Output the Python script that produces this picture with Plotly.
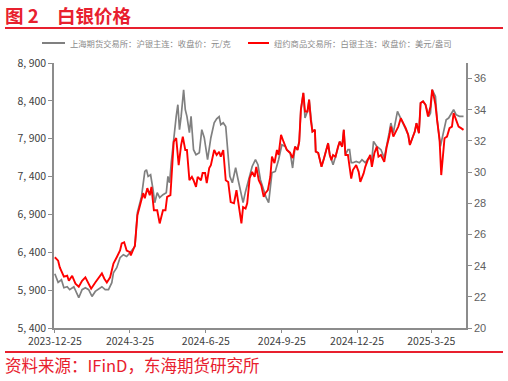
import plotly.graph_objects as go

# ---------------- data ----------------
shfe_dates = [
    "2023-12-25", "2023-12-29", "2024-01-02", "2024-01-05", "2024-01-09", "2024-01-12", "2024-01-17",
    "2024-01-21", "2024-01-23", "2024-01-27", "2024-01-31", "2024-02-04", "2024-02-08", "2024-02-12",
    "2024-02-16", "2024-02-20", "2024-02-24", "2024-02-28", "2024-03-03", "2024-03-05", "2024-03-09",
    "2024-03-13", "2024-03-17", "2024-03-21", "2024-03-25", "2024-03-31", "2024-04-03", "2024-04-08",
    "2024-04-12", "2024-04-14", "2024-04-16", "2024-04-19", "2024-04-22", "2024-04-24", "2024-04-27",
    "2024-04-30", "2024-05-04", "2024-05-08", "2024-05-10", "2024-05-12", "2024-05-14", "2024-05-17",
    "2024-05-20", "2024-05-22", "2024-05-24", "2024-05-26", "2024-05-29", "2024-05-31", "2024-06-02",
    "2024-06-05", "2024-06-07", "2024-06-10", "2024-06-13", "2024-06-17", "2024-06-20", "2024-06-23",
    "2024-06-24", "2024-06-27", "2024-07-01", "2024-07-05", "2024-07-08", "2024-07-11", "2024-07-13",
    "2024-07-16", "2024-07-19", "2024-07-22", "2024-07-24", "2024-07-27", "2024-07-31", "2024-08-03",
    "2024-08-06", "2024-08-09", "2024-08-12", "2024-08-16", "2024-08-20", "2024-08-24", "2024-08-27",
    "2024-08-30", "2024-09-03", "2024-09-06", "2024-09-09", "2024-09-13", "2024-09-17", "2024-09-21",
    "2024-09-25", "2024-09-29", "2024-10-01", "2024-10-05", "2024-10-08", "2024-10-11", "2024-10-14",
    "2024-10-16", "2024-10-18", "2024-10-21", "2024-10-23", "2024-10-26", "2024-10-28", "2024-10-30",
    "2024-11-01", "2024-11-04", "2024-11-05", "2024-11-08", "2024-11-10", "2024-11-12", "2024-11-15",
    "2024-11-17", "2024-11-20", "2024-11-22", "2024-11-24", "2024-11-26", "2024-11-29", "2024-12-02",
    "2024-12-04", "2024-12-07", "2024-12-09", "2024-12-11", "2024-12-14", "2024-12-16", "2024-12-18",
    "2024-12-20", "2024-12-24", "2024-12-28", "2024-12-31", "2025-01-04", "2025-01-08", "2025-01-12",
    "2025-01-14", "2025-01-18", "2025-01-23", "2025-01-27", "2025-01-30", "2025-02-02", "2025-02-04",
    "2025-02-07", "2025-02-12", "2025-02-16", "2025-02-18", "2025-02-22", "2025-02-25", "2025-02-27",
    "2025-03-02", "2025-03-05", "2025-03-07", "2025-03-10", "2025-03-12", "2025-03-15", "2025-03-18",
    "2025-03-22", "2025-03-24", "2025-03-26", "2025-03-30", "2025-04-01", "2025-04-05", "2025-04-08",
    "2025-04-12", "2025-04-15", "2025-04-18", "2025-04-21", "2025-04-24", "2025-04-28", "2025-05-03",
]
shfe_close = [
    6117, 6002, 6037, 5932, 5945, 5906, 5945,
    5840, 5800, 5906, 5932, 5906, 5817, 5883,
    5919, 5945, 5906, 5906, 5998, 6130, 6196,
    6328, 6368, 6345, 6394, 6477, 6922, 7138,
    7468, 7490, 7402, 7424, 7226, 7055, 7187,
    7121, 7161, 7187, 7402, 7319, 7583, 7913,
    8195, 8349, 8019, 8195, 8547, 8283, 8195,
    7979, 8195, 7755, 7689, 7715, 8019, 7913,
    7847, 7623, 7913, 8111, 8164, 8191, 8085,
    8111, 8062, 7715, 7402, 7319, 7517, 7358,
    7187, 7055, 7204, 7358, 7534, 7623, 7557,
    7358, 7226, 7121, 7055, 7451, 7468, 7623,
    7821, 7798, 7755, 7715, 7513, 7798, 7755,
    7864, 8283, 8504, 8173, 8261, 8415, 8151,
    7996, 8019, 7732, 7715, 7600, 7534, 7645,
    7732, 7843, 7689, 7623, 7557, 7666, 7798,
    7864, 7798, 8019, 7689, 7755, 7755, 7583,
    7583, 7600, 7583, 7623, 7583, 7645, 7623,
    7864, 7798, 7755, 7646, 7798, 7979, 8107,
    7979, 8261, 8173, 8129, 8041, 7953, 7821,
    7909, 7996, 8107, 7975, 8372, 8393, 8349,
    8195, 8240, 8547, 8459, 8151, 7798, 7953,
    8151, 8173, 8239, 8283, 8217, 8195, 8195,
]

comex_dates = [
    "2023-12-25", "2023-12-29", "2023-12-31", "2024-01-05", "2024-01-09", "2024-01-11", "2024-01-15",
    "2024-01-19", "2024-01-23", "2024-01-27", "2024-01-31", "2024-02-04", "2024-02-07", "2024-02-12",
    "2024-02-16", "2024-02-20", "2024-02-23", "2024-02-26", "2024-03-01", "2024-03-05", "2024-03-09",
    "2024-03-13", "2024-03-15", "2024-03-18", "2024-03-21", "2024-03-25", "2024-03-26", "2024-03-31",
    "2024-04-03", "2024-04-07", "2024-04-10", "2024-04-12", "2024-04-15", "2024-04-18", "2024-04-20",
    "2024-04-23", "2024-04-27", "2024-04-30", "2024-05-04", "2024-05-07", "2024-05-09", "2024-05-13",
    "2024-05-17", "2024-05-20", "2024-05-23", "2024-05-26", "2024-05-28", "2024-05-31", "2024-06-02",
    "2024-06-05", "2024-06-08", "2024-06-10", "2024-06-13", "2024-06-15", "2024-06-19", "2024-06-21",
    "2024-06-24", "2024-06-26", "2024-06-29", "2024-07-01", "2024-07-05", "2024-07-08", "2024-07-11",
    "2024-07-13", "2024-07-16", "2024-07-19", "2024-07-22", "2024-07-25", "2024-07-29", "2024-08-01",
    "2024-08-04", "2024-08-07", "2024-08-09", "2024-08-12", "2024-08-14", "2024-08-17", "2024-08-20",
    "2024-08-23", "2024-08-25", "2024-08-28", "2024-08-31", "2024-09-03", "2024-09-05", "2024-09-08",
    "2024-09-11", "2024-09-13", "2024-09-16", "2024-09-19", "2024-09-21", "2024-09-24", "2024-09-27",
    "2024-09-29", "2024-10-01", "2024-10-05", "2024-10-08", "2024-10-11", "2024-10-14", "2024-10-16",
    "2024-10-18", "2024-10-21", "2024-10-23", "2024-10-26", "2024-10-28", "2024-10-30", "2024-11-01",
    "2024-11-04", "2024-11-05", "2024-11-08", "2024-11-10", "2024-11-12", "2024-11-15", "2024-11-17",
    "2024-11-20", "2024-11-22", "2024-11-24", "2024-11-26", "2024-11-29", "2024-12-02", "2024-12-04",
    "2024-12-07", "2024-12-09", "2024-12-11", "2024-12-14", "2024-12-16", "2024-12-18", "2024-12-20",
    "2024-12-24", "2024-12-27", "2024-12-29", "2025-01-02", "2025-01-04", "2025-01-07", "2025-01-10",
    "2025-01-12", "2025-01-15", "2025-01-18", "2025-01-20", "2025-01-23", "2025-01-27", "2025-01-30",
    "2025-02-02", "2025-02-04", "2025-02-07", "2025-02-10", "2025-02-13", "2025-02-16", "2025-02-19",
    "2025-02-22", "2025-02-25", "2025-02-27", "2025-03-02", "2025-03-05", "2025-03-07", "2025-03-10",
    "2025-03-12", "2025-03-15", "2025-03-18", "2025-03-21", "2025-03-24", "2025-03-26", "2025-03-28",
    "2025-03-30", "2025-04-01", "2025-04-04", "2025-04-06", "2025-04-08", "2025-04-10", "2025-04-13",
    "2025-04-16", "2025-04-19", "2025-04-21", "2025-04-24", "2025-04-27", "2025-04-30", "2025-05-03",
]
comex_close = [
    24.54, 24.32, 23.89, 23.29, 23.35, 23.03, 23.35,
    22.84, 22.65, 23.03, 23.25, 22.86, 22.52, 22.92,
    23.23, 23.50, 23.16, 22.92, 23.25, 24.13, 24.54,
    24.97, 25.42, 25.50, 24.97, 24.86, 24.65, 25.29,
    27.23, 28.00, 28.65, 28.32, 28.97, 28.52, 29.05,
    27.55, 27.55, 26.71, 27.55, 27.55, 28.41, 28.52,
    31.95, 32.19, 30.45, 31.74, 32.28, 31.42, 31.42,
    29.48, 29.70, 29.48, 29.05, 29.70, 29.48, 29.94,
    29.94, 29.29, 30.26, 30.45, 31.42, 31.10, 31.31,
    30.99, 31.42, 29.48, 29.37, 28.08, 28.00, 28.84,
    27.66, 26.71, 27.76, 27.66, 28.00, 29.61, 30.02,
    29.70, 30.34, 29.48, 29.16, 28.41, 28.65, 28.84,
    29.70, 30.99, 30.58, 31.42, 31.10, 32.39, 31.95,
    31.63, 31.42, 31.23, 30.90, 31.63, 31.42, 31.95,
    34.00, 35.08, 33.89, 33.89, 34.65, 33.35, 32.60,
    32.71, 31.31, 31.23, 30.66, 30.34, 30.88, 31.31,
    31.85, 31.10, 30.77, 31.10, 30.99, 31.63, 31.95,
    31.63, 32.71, 31.10, 31.10, 30.34, 29.59, 30.13,
    30.45, 30.02, 29.37, 29.92, 30.34, 30.77, 31.10,
    30.34, 31.21, 31.63, 30.99, 31.10, 30.66, 31.63,
    32.28, 32.92, 32.28, 32.60, 32.92, 33.46, 33.14,
    32.82, 32.39, 31.74, 32.17, 32.60, 33.14, 32.50,
    34.43, 34.54, 34.32, 33.57, 34.21, 35.29, 34.86,
    34.32, 33.35, 32.06, 29.81, 31.21, 32.17, 32.28,
    32.82, 32.92, 33.79, 33.35, 32.92, 32.82, 32.71,
]

left_tickvals = [5400, 5900, 6400, 6900, 7400, 7900, 8400, 8900]
left_ticktext = ["5, 400", "5, 900", "6, 400", "6, 900", "7, 400", "7, 900", "8, 400", "8, 900"]
right_tickvals = [20, 22, 24, 26, 28, 30, 32, 34, 36]
x_tickvals = ["2023-12-25", "2024-03-25", "2024-06-25", "2024-09-25", "2024-12-25", "2025-03-25"]
x_ticktext = ["2023-12-25", "2024-3-25", "2024-6-25", "2024-9-25", "2024-12-25", "2025-3-25"]

series_names = ["上海期货交易所：沪银主连：收盘价：元/克", "纽约商品交易所：白银主连：收盘价：美元/盎司"]
series_colors = ["#808080", "#FF0000"]
title_text = "图 2　白银价格"
source_text = "资料来源：IFinD，东海期货研究所"

# ---------------- styling / layout helpers ----------------
RED = "#E8202E"
AX = "#8C8C8C"
CJK = "Noto Sans CJK SC"
W, H = 508, 381
L, R, T, B = 54, 42, 63, 53
PW, PH = W - L - R, H - T - B


def px_x(px):
    return (px - L) / PW


def px_y(py):
    return 1 - (py - T) / PH


fig = go.Figure()
fig.add_trace(go.Scatter(x=shfe_dates, y=shfe_close, name=series_names[0], mode="lines",
                         line=dict(color=series_colors[0], width=1.7), yaxis="y"))
fig.add_trace(go.Scatter(x=comex_dates, y=comex_close, name=series_names[1], mode="lines",
                         line=dict(color=series_colors[1], width=1.9), yaxis="y2"))

annotations = [
    dict(text="<b>" + title_text + "</b>", xref="paper", yref="paper",
         x=px_x(3), y=px_y(15), xanchor="left", yanchor="middle",
         showarrow=False, font=dict(family=CJK, size=18.5, color=RED)),
    dict(text=source_text, xref="paper", yref="paper",
         x=px_x(3), y=px_y(365), xanchor="left", yanchor="middle",
         showarrow=False, font=dict(family=CJK, size=16.5, color=RED)),
]
shapes = [
    dict(type="line", xref="paper", yref="paper", x0=px_x(5), x1=px_x(503),
         y0=px_y(28), y1=px_y(28), line=dict(color=RED, width=2)),
    dict(type="line", xref="paper", yref="paper", x0=px_x(5), x1=px_x(503),
         y0=px_y(352), y1=px_y(352), line=dict(color=RED, width=2)),
]
# manual legend (keeps it on a single row like the reference)
legend_line_x = [(42, 65), (248, 269)]
for (x0, x1), name, col in zip(legend_line_x, series_names, series_colors):
    shapes.append(dict(type="line", xref="paper", yref="paper", x0=px_x(x0), x1=px_x(x1),
                       y0=px_y(43), y1=px_y(43), line=dict(color=col, width=2)))
    annotations.append(dict(text=name, xref="paper", yref="paper", x=px_x(x1 + 3), y=px_y(43),
                            xanchor="left", yanchor="middle", showarrow=False,
                            font=dict(family=CJK, size=8.3, color="#8A8A8A")))

fig.update_layout(
    width=W, height=H,
    margin=dict(l=L, r=R, t=T, b=B),
    paper_bgcolor="white", plot_bgcolor="white",
    showlegend=False,
    hovermode=False,
    xaxis=dict(type="date", range=["2023-12-24", "2025-05-06"],
               tickvals=x_tickvals, ticktext=x_ticktext, automargin=False,
               showline=True, linecolor=AX, linewidth=1.5,
               ticks="outside", ticklen=3, tickcolor=AX,
               showgrid=False, zeroline=False,
               tickfont=dict(family=CJK, size=10.5, color="#404040")),
    yaxis=dict(range=[5400, 8900], tickvals=left_tickvals, ticktext=left_ticktext,
               automargin=False,
               showline=True, linecolor=AX, linewidth=1.5,
               ticks="outside", ticklen=4, tickcolor=AX,
               showgrid=False, zeroline=False,
               tickfont=dict(family=CJK, size=10.5, color="#404040")),
    yaxis2=dict(range=[20, 37], tickvals=right_tickvals, overlaying="y", side="right",
                automargin=False,
                showline=True, linecolor=AX, linewidth=1.5,
                ticks="outside", ticklen=4, tickcolor=AX,
                showgrid=False, zeroline=False,
                tickfont=dict(family="Liberation Sans", size=11, color="#606060")),
    annotations=annotations,
    shapes=shapes,
)

fig.write_html("out.html", config={"displayModeBar": False},
               post_script="document.body.style.margin='0';")
